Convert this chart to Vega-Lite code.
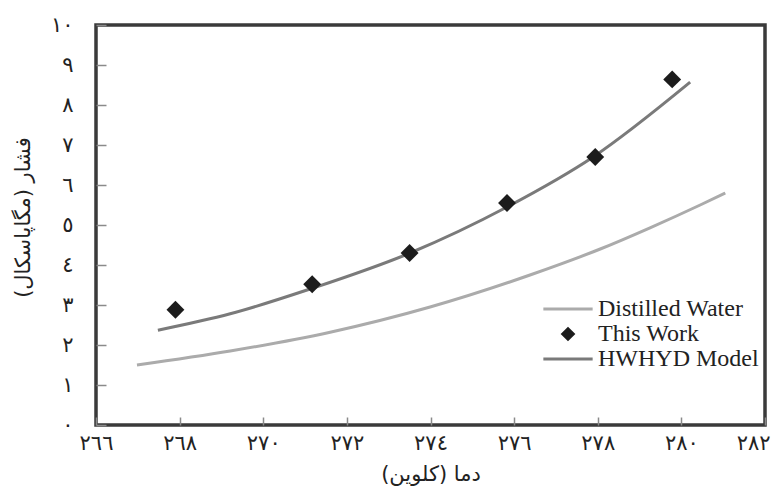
{
  "$schema": "https://vega.github.io/schema/vega-lite/v6.json",
  "width": 669,
  "height": 400,
  "autosize": "none",
  "padding": {"left": 96, "top": 25, "right": 6, "bottom": 63},
  "background": "white",
  "config": {
    "view": {"stroke": "#3a3a3a", "strokeWidth": 3.5},
    "axis": {
      "grid": false,
      "domain": false,
      "labelFont": "DejaVu Sans",
      "labelFontSize": 21,
      "labelColor": "#222222",
      "titleFont": "DejaVu Sans",
      "titleFontSize": 21,
      "titleFontWeight": "normal",
      "titleColor": "#222222",
      "tickColor": "#8a8a8a",
      "tickWidth": 1.5
    }
  },
  "data": {
    "values": [
      {"series": "HWHYD Model", "t": 267.48, "p": 2.37},
      {"series": "HWHYD Model", "t": 269.21, "p": 2.78},
      {"series": "HWHYD Model", "t": 271.12, "p": 3.4},
      {"series": "HWHYD Model", "t": 273.51, "p": 4.3},
      {"series": "HWHYD Model", "t": 275.83, "p": 5.45},
      {"series": "HWHYD Model", "t": 277.89, "p": 6.7},
      {"series": "HWHYD Model", "t": 280.21, "p": 8.57},
      {"series": "Distilled Water", "t": 266.98, "p": 1.5},
      {"series": "Distilled Water", "t": 269.21, "p": 1.85},
      {"series": "Distilled Water", "t": 271.6, "p": 2.32},
      {"series": "Distilled Water", "t": 273.99, "p": 2.95},
      {"series": "Distilled Water", "t": 276.38, "p": 3.75},
      {"series": "Distilled Water", "t": 278.06, "p": 4.4},
      {"series": "Distilled Water", "t": 279.25, "p": 4.93},
      {"series": "Distilled Water", "t": 280.45, "p": 5.5},
      {"series": "Distilled Water", "t": 281.05, "p": 5.8},
      {"series": "This Work", "t": 267.9, "p": 2.88},
      {"series": "This Work", "t": 271.17, "p": 3.52},
      {"series": "This Work", "t": 273.5, "p": 4.3},
      {"series": "This Work", "t": 275.83, "p": 5.55},
      {"series": "This Work", "t": 277.94, "p": 6.7},
      {"series": "This Work", "t": 279.78, "p": 8.64}
    ]
  },
  "encoding": {
    "x": {
      "field": "t", "type": "quantitative",
      "scale": {"domain": [266, 282], "nice": false, "zero": false},
      "axis": {
        "values": [266, 268, 270, 272, 274, 276, 278, 280, 282],
        "labelExpr": "['٠','١','٢','٣','٤','٥','٦','٧','٨','٩'][floor(datum.value/100)] + ['٠','١','٢','٣','٤','٥','٦','٧','٨','٩'][floor(datum.value/10)%10] + ['٠','١','٢','٣','٤','٥','٦','٧','٨','٩'][datum.value%10]",
        "labelAlign": {"condition": {"test": "datum.value == 282", "value": "right"}, "value": "center"},
        "labelOffset": {"condition": {"test": "datum.value == 282", "value": 5}, "value": 0},
        "tickSize": -8,
        "labelPadding": 15,
        "labelFlush": false,
        "labelOverlap": false,
        "labelBound": false,
        "title": "دما (کلوین)",
        "titlePadding": 10
      }
    },
    "y": {
      "field": "p", "type": "quantitative",
      "scale": {"domain": [0, 10], "nice": false},
      "axis": {
        "values": [0, 1, 2, 3, 4, 5, 6, 7, 8, 9, 10],
        "labelExpr": "datum.value == 10 ? '١٠' : ['٠','١','٢','٣','٤','٥','٦','٧','٨','٩'][datum.value]",
        "tickSize": -10,
        "labelPadding": 33,
        "labelFlush": false,
        "labelOverlap": false,
        "title": "فشار (مگاپاسکال)",
        "titleAngle": -90,
        "titleBaseline": "middle",
        "titleX": -73,
        "titleY": 192
      }
    },
    "color": {
      "field": "series", "type": "nominal",
      "scale": {"domain": ["Distilled Water", "This Work", "HWHYD Model"], "range": ["#ababab", "#1c1c1c", "#7a7a7a"]},
      "legend": {
        "title": null, "orient": "none", "legendX": 460, "legendY": 272,
        "symbolSize": 110, "labelFont": "Liberation Serif", "labelFontSize": 24, "labelColor": "#222222",
        "labelLimit": 0, "labelOffset": 18, "rowPadding": 1, "padding": 0, "symbolStrokeWidth": 3,
        "encode": {"symbols": {"update": {"stroke": {"scale": "color", "field": "value"}, "fill": {"scale": "color", "field": "value"}, "strokeWidth": {"value": 3}}}}
      }
    }
  },
  "layer": [
    {
      "transform": [{"filter": "datum.series !== 'This Work'"}],
      "mark": {"type": "line", "interpolate": "monotone", "strokeWidth": 3}
    },
    {
      "transform": [{"filter": "datum.series === 'This Work'"}],
      "mark": {"type": "point", "filled": true, "size": 320, "opacity": 1},
      "encoding": {
        "shape": {
          "field": "series", "type": "nominal",
          "scale": {"domain": ["Distilled Water", "This Work", "HWHYD Model"], "range": ["M-4.7,0H4.7", "diamond", "M-4.7,0H4.7"]},
          "legend": {
            "title": null, "orient": "none", "legendX": 460, "legendY": 272,
            "symbolSize": 110, "labelFont": "Liberation Serif", "labelFontSize": 24, "labelColor": "#222222",
            "labelLimit": 0, "labelOffset": 18, "rowPadding": 1, "padding": 0, "symbolStrokeWidth": 3,
            "encode": {"symbols": {"update": {"stroke": {"scale": "color", "field": "value"}, "fill": {"scale": "color", "field": "value"}, "strokeWidth": {"value": 3}}}}
          }
        }
      }
    }
  ]
}
